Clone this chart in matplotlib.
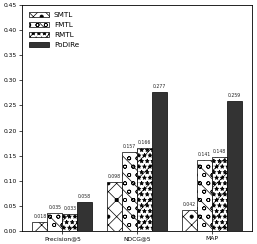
import matplotlib
matplotlib.use("Agg")
import matplotlib.pyplot as plt
import numpy as np

plt.rcParams['hatch.linewidth'] = 0.5

categories = ["Precision@5", "NDCG@5", "MAP"]
series_names = ["SMTL", "FMTL", "RMTL", "PoDiRe"]
smtl = [0.018, 0.098, 0.042]
fmtl = [0.035, 0.157, 0.141]
rmtl = [0.033, 0.166, 0.148]
podire = [0.058, 0.277, 0.259]
yticks = [0.00, 0.05, 0.10, 0.15, 0.20, 0.25, 0.30, 0.35, 0.40, 0.45]

values = [smtl, fmtl, rmtl, podire]
hatches = ["xx.", "\\\\oo", "//***", ""]
faces = ["white", "white", "white", "#333333"]

fig = plt.figure(figsize=(2.57, 2.44), dpi=100)
ax = fig.add_axes([22/257, 13/244, 230/257, 226/244])

x = np.arange(len(categories))
w = 0.2
for i, (vals, name) in enumerate(zip(values, series_names)):
    pos = x + (i - 1.5) * w
    bars = ax.bar(pos, vals, w, label=name, color=faces[i], edgecolor="black",
                  hatch=hatches[i], linewidth=0.5)
    for b, v in zip(bars, vals):
        ax.text(b.get_x() + b.get_width() / 2, v + 0.006, f"{v:.3f}",
                ha="center", va="bottom", fontsize=3.3, color="#222222")

ax.set_ylim(0, 0.45)
ax.set_yticks(yticks)
ax.set_yticklabels([f"{t:.2f}" for t in yticks])
ax.set_xticks(x)
ax.set_xticklabels(categories)
ax.tick_params(labelsize=4.3, length=2, width=0.5, pad=1.5)
for s in ax.spines.values():
    s.set_linewidth(0.6)
ax.legend(loc="upper left", fontsize=5.2, frameon=False, handlelength=2.8,
          handleheight=0.6, borderaxespad=0.6, labelspacing=0.55, handletextpad=0.6)

fig.savefig("out.png", dpi=100)
